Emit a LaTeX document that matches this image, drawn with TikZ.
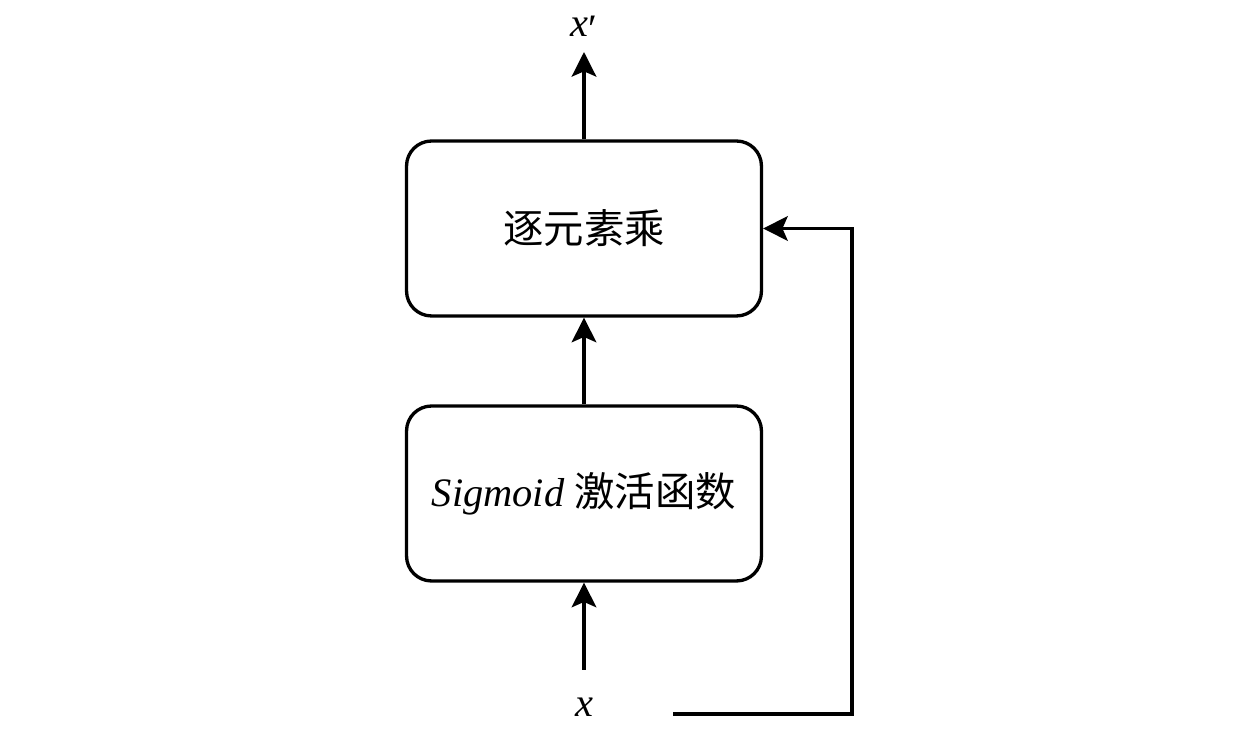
\documentclass[tikz,border=0pt]{standalone}
\usepackage{fontspec}
\setmainfont{Liberation Serif}
\newfontfamily\cjk{Noto Sans CJK SC}
\usetikzlibrary{arrows.meta,positioning}
\tikzset{
  blockbox/.style={draw,line width=1.9pt,rounded corners=0.5cm,minimum width=7.1cm,minimum height=3.5cm,font=\fontsize{23}{28}\selectfont},
  flow/.style={line width=1.9pt,-{Stealth[length=14pt,width=14pt,inset=3pt]}},
  varlabel/.style={inner sep=0pt,font=\fontsize{23}{28}\selectfont\itshape}
}
\begin{document}
\begin{tikzpicture}[x=0.02cm,y=-0.02cm]
\useasboundingbox (0,0) rectangle (1259,732);
\node[varlabel] (out) at (584,29) {x\raisebox{-0.15em}{\upshape ′}};
\node[blockbox] (mul) at (584,228.5) {\cjk 逐元素乘};
\node[blockbox] (sig) at (584,493.5) {\textit{Sigmoid} {\cjk 激活函数}};
\node[varlabel] (in) at (584,707) {x};
\coordinate (outtip) at (584,52);
\coordinate (intail) at (584,670);
\coordinate (fbstart) at (673,714);
\coordinate (fbcorner) at (852,714);
\draw[flow] (intail) -- (sig.south);
\draw[flow] (sig.north) -- (mul.south);
\draw[flow] (mul.north) -- (outtip);
\draw[flow] (fbstart) -- (fbcorner) |- (mul.east);
\end{tikzpicture}
\end{document}
